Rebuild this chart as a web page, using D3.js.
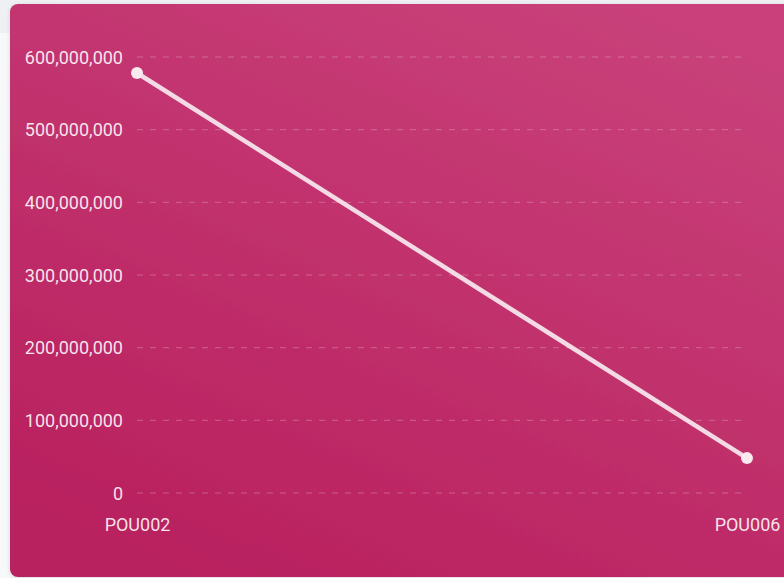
<!DOCTYPE html>
<html><head><meta charset="utf-8">
<script src="https://cdn.jsdelivr.net/npm/d3@7/dist/d3.min.js"></script>
<style>
html,body{margin:0;padding:0;background:#f7f8fa;overflow:hidden;}
svg{display:block;}
</style></head>
<body>
<svg id="chart" width="784" height="578"></svg>
<script>
const categories = ["POU002", "POU006"];
const values = [578000000, 48000000];
const yTicks = [0, 100000000, 200000000, 300000000, 400000000, 500000000, 600000000];

const svg = d3.select("#chart");
const defs = svg.append("defs");
const grad = defs.append("linearGradient").attr("id","bg")
  .attr("x1","20%").attr("y1","100%").attr("x2","80%").attr("y2","0%");
grad.append("stop").attr("offset","0%").attr("stop-color","#b8205e");
grad.append("stop").attr("offset","100%").attr("stop-color","#c9417a");
const sh = defs.append("filter").attr("id","sh").attr("x","-5%").attr("y","-5%").attr("width","110%").attr("height","110%");
sh.append("feDropShadow").attr("dx",0).attr("dy",1).attr("stdDeviation",2).attr("flood-color","#000").attr("flood-opacity",0.12);

svg.append("rect").attr("x",0).attr("y",0).attr("width",784).attr("height",33).attr("fill","#eef0f3");
svg.append("rect").attr("x",10).attr("y",4).attr("width",800).attr("height",573).attr("rx",8)
  .attr("fill","url(#bg)").attr("filter","url(#sh)");

const x = d3.scalePoint().domain(categories).range([137, 747]);
const y = d3.scaleLinear().domain([0, 600000000]).range([493, 57]);

const fmt = d3.format(",");
const g = svg.append("g");
g.selectAll("line.grid").data(yTicks).join("line").attr("class","grid")
  .attr("x1",137).attr("x2",745).attr("y1",d=>y(d)).attr("y2",d=>y(d))
  .attr("stroke","rgba(255,255,255,0.25)").attr("stroke-width",1).attr("stroke-dasharray","6,7");

const yAxis = d3.axisLeft(y).tickValues(yTicks).tickFormat(fmt).tickSize(0).tickPadding(0);
const ya = svg.append("g").attr("transform","translate(123,0)").call(yAxis);
ya.select(".domain").remove();
ya.selectAll("text").attr("fill","rgba(255,255,255,0.88)").style("font-family","Roboto, sans-serif").style("font-size","18px").attr("dy","0.35em");

const xAxis = d3.axisBottom(x).tickSize(0).tickPadding(0);
const xa = svg.append("g").attr("transform","translate(0,525)").call(xAxis);
xa.select(".domain").remove();
xa.selectAll("text").attr("fill","rgba(255,255,255,0.88)").style("font-family","Roboto, sans-serif").style("font-size","18px").attr("dy","0.35em");

const line = d3.line().x((d,i)=>x(categories[i])).y(d=>y(d));
svg.append("path").datum(values).attr("d",line).attr("fill","none")
  .attr("stroke","rgba(255,255,255,0.82)").attr("stroke-width",4.5).attr("stroke-linecap","round");
svg.selectAll("circle.pt").data(values).join("circle").attr("class","pt")
  .attr("cx",(d,i)=>x(categories[i])).attr("cy",d=>y(d)).attr("r",6)
  .attr("fill","#fbe9f0");
</script>
</body></html>
